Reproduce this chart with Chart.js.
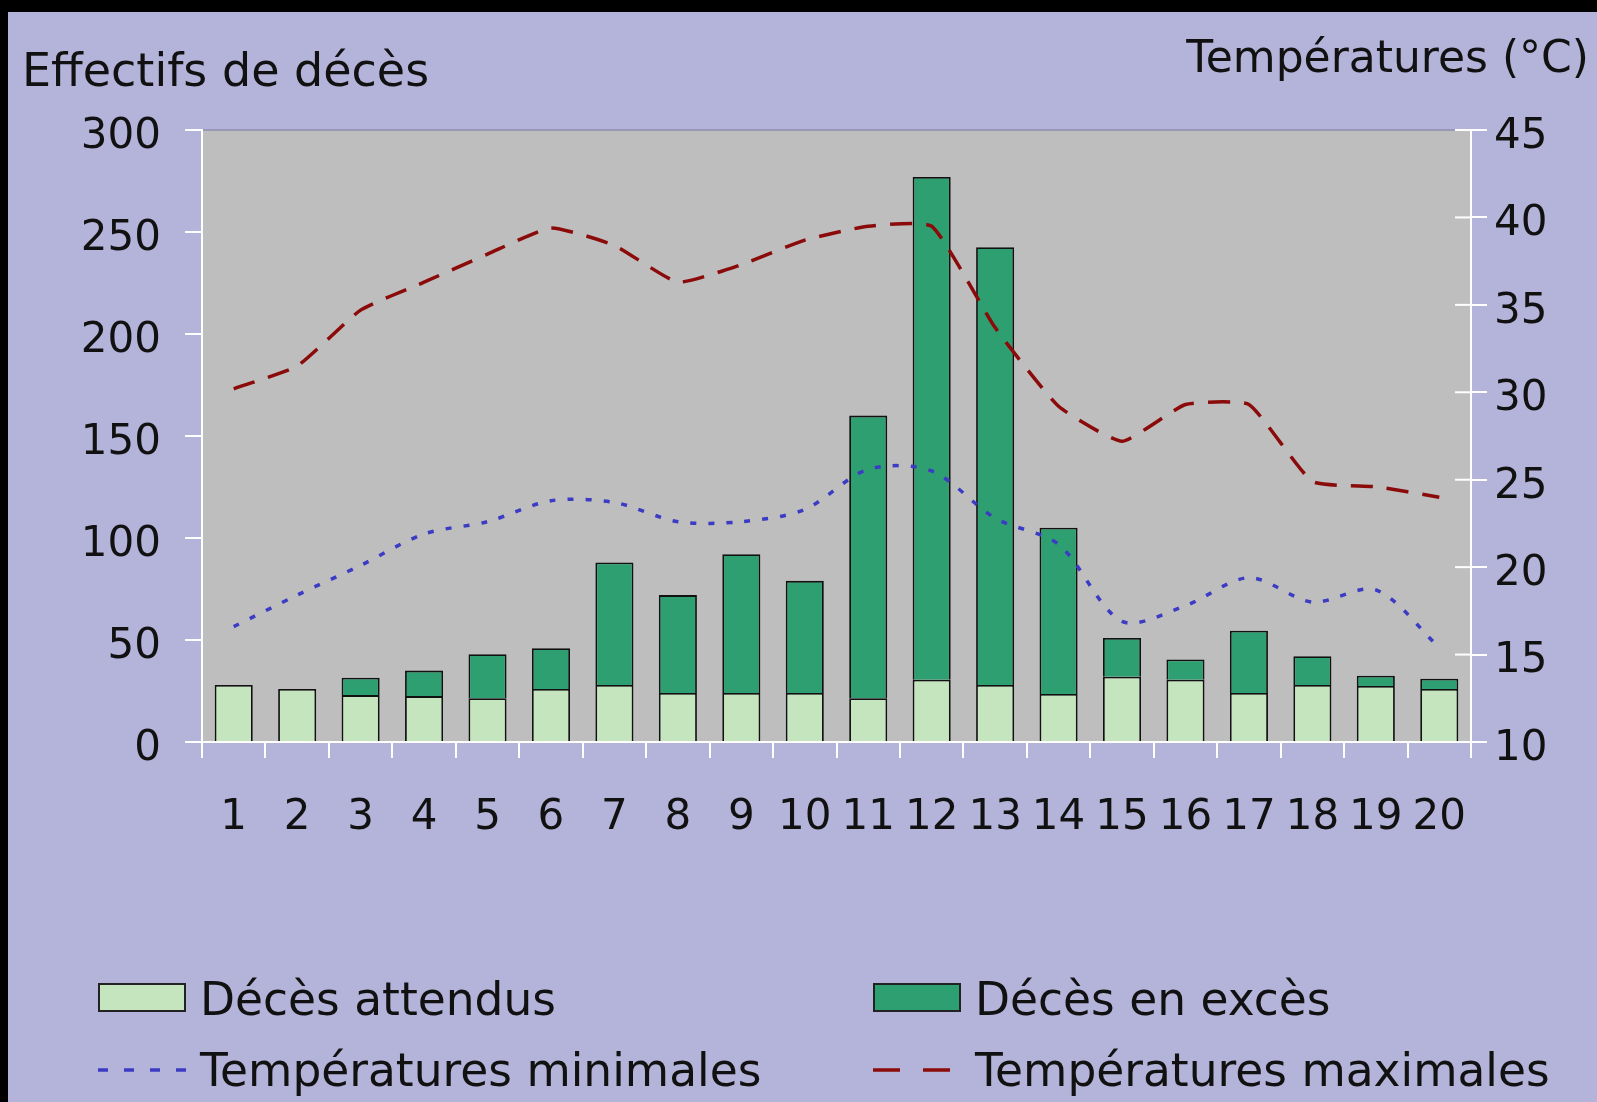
<!DOCTYPE html>
<html lang="fr">
<head>
<meta charset="utf-8">
<script src="https://cdn.jsdelivr.net/npm/chart.js@4.4.0/dist/chart.umd.min.js"></script>
<style>
  html, body { margin: 0; padding: 0; background: #000; }
  #wrap { position: relative; width: 1597px; height: 1102px; overflow: hidden; background: #000; }
  #page { position: absolute; left: 8px; top: 12px; right: 0; bottom: 0; background: #b4b4da; }
  canvas { position: absolute; left: 0; top: 0; }
  .txt { position: absolute; font-family: 'DejaVu Sans', sans-serif; color: #111; white-space: nowrap; line-height: 1; }
  .sw { position: absolute; width: 88px; height: 29px; border: 2px solid #222; box-sizing: border-box; }
  .ln { position: absolute; }
</style>
</head>
<body>
<div id="wrap">
  <div id="page"></div>
  <canvas id="c" width="1597" height="1102"></canvas>
  <div class="txt" style="left:22px; top:47px; font-size:46px;">Effectifs de décès</div>
  <div class="txt" style="right:8px; top:35px; font-size:44px;">Températures (°C)</div>
  <div id="legend"></div>
</div>
<script>
const labels = ['1', '2', '3', '4', '5', '6', '7', '8', '9', '10', '11', '12', '13', '14', '15', '16', '17', '18', '19', '20']

// décès (effectifs)
const attendus = [28, 26, 23, 22.5, 21.5, 26, 28, 24, 24, 24, 21.5, 30.5, 28, 23.5, 32, 30.5, 24, 28, 27.5, 26]
const exces = [0, 0, 8.5, 12.5, 21.5, 20, 60, 48, 68, 55, 138.5, 246.5, 214.5, 81.5, 19, 10, 30.5, 14, 5, 5]

// températures (°C)
const tMin = [16.6, 18.4, 20.1, 21.9, 22.6, 23.8, 23.7, 22.6, 22.6, 23.3, 25.6, 25.5, 22.8, 21.3, 16.9, 17.8, 19.4, 18.0, 18.7, 15.4]
const tMax = [30.2, 31.5, 34.7, 36.3, 37.9, 39.4, 38.4, 36.3, 37.3, 38.7, 39.5, 39.5, 33.7, 29.2, 27.2, 29.3, 29.3, 24.9, 24.6, 24.0]

const leftTicks = [0, 50, 100, 150, 200, 250, 300]
const rightTicks = [10, 15, 20, 25, 30, 35, 40, 45]

const fontTicks = { family: "'DejaVu Sans', sans-serif", size: 42 }

const plotBg = {
  id: 'plotBg',
  beforeDraw (chart) {
    const { ctx, chartArea: a } = chart
    ctx.save()
    ctx.fillStyle = '#bebebe'
    ctx.fillRect(a.left, a.top, a.right - a.left, a.bottom - a.top)
    ctx.strokeStyle = '#8e8eae'
    ctx.lineWidth = 1.5
    ctx.beginPath()
    ctx.moveTo(a.left, a.top)
    ctx.lineTo(a.right, a.top)
    ctx.stroke()
    ctx.restore()
  },
  afterDraw (chart) {
    // inner half of the right axis ticks
    const { ctx, chartArea: a } = chart
    const s = chart.scales.y1
    ctx.save()
    ctx.strokeStyle = '#ffffff'
    ctx.lineWidth = 2
    s.ticks.forEach((t) => {
      const y = s.getPixelForValue(t.value)
      ctx.beginPath()
      ctx.moveTo(a.right - 16, y)
      ctx.lineTo(a.right, y)
      ctx.stroke()
    })
    ctx.restore()
  }
}

const chart = new Chart(document.getElementById('c'), {
  data: {
    labels: labels,
    datasets: [
      {
        type: 'line',
        label: 'Températures minimales',
        data: tMin,
        yAxisID: 'y1',
        borderColor: '#3b3bc4',
        borderWidth: 3.5,
        borderDash: [6, 12],
        pointRadius: 0,
        tension: 0.3,
        fill: false,
        order: 0
      },
      {
        type: 'line',
        label: 'Températures maximales',
        data: tMax,
        yAxisID: 'y1',
        borderColor: '#8b0a0a',
        borderWidth: 3.5,
        borderDash: [22, 14],
        pointRadius: 0,
        tension: 0.15,
        fill: false,
        order: 0
      },
      {
        type: 'bar',
        label: 'Décès attendus',
        data: attendus,
        yAxisID: 'y',
        backgroundColor: '#c4e5bd',
        borderColor: '#111',
        borderWidth: 1.8,
        stack: 's',
        order: 1
      },
      {
        type: 'bar',
        label: 'Décès en excès',
        data: exces,
        yAxisID: 'y',
        backgroundColor: '#2e9f70',
        borderColor: '#111',
        borderWidth: 1.8,
        stack: 's',
        order: 1
      }
    ]
  },
  options: {
    responsive: false,
    animation: false,
    layout: { padding: { top: 130, left: 0, right: 0, bottom: 0 } },
    datasets: { bar: { categoryPercentage: 1, barPercentage: 0.6 } },
    plugins: { legend: { display: false }, tooltip: { enabled: false } },
    scales: {
      x: {
        stacked: true,
        afterFit: (s) => { s.height = 360 },
        grid: { drawOnChartArea: false, color: '#ffffff', lineWidth: 2, tickLength: 16 },
        border: { color: '#ffffff', width: 2 },
        ticks: { color: '#111', font: fontTicks, padding: 35, maxRotation: 0, autoSkip: false }
      },
      y: {
        position: 'left',
        stacked: true,
        min: 0,
        max: 300,
        afterFit: (s) => { s.width = 202 },
        afterBuildTicks: (s) => { s.ticks = leftTicks.map((v) => ({ value: v })) },
        grid: { drawOnChartArea: false, color: '#ffffff', lineWidth: 2, tickLength: 17 },
        border: { color: '#ffffff', width: 2 },
        ticks: { color: '#111', font: fontTicks, padding: 24, labelOffset: 7 }
      },
      y1: {
        position: 'right',
        min: 10,
        max: 45,
        afterFit: (s) => { s.width = 126 },
        afterBuildTicks: (s) => { s.ticks = rightTicks.map((v) => ({ value: v })) },
        grid: { drawOnChartArea: false, color: '#ffffff', lineWidth: 2, tickLength: 16 },
        border: { color: '#ffffff', width: 2 },
        ticks: { color: '#111', font: fontTicks, padding: 7, labelOffset: 7 }
      }
    }
  },
  plugins: [plotBg]
})

// legend in two columns, built from the chart datasets
// [left of sample, text baseline, sample width, dash pattern of the sample]
const legendPos = {
  'Décès attendus': [98, 1017, 88, null],
  'Décès en excès': [873, 1017, 88, null],
  'Températures minimales': [98, 1088, 90, '10 16'],
  'Températures maximales': [873, 1088, 78, '27 23']
}
const legend = document.getElementById('legend')
chart.data.datasets.forEach((ds) => {
  const p = legendPos[ds.label]
  const fs = 45.5
  if (ds.type === 'bar') {
    const sw = document.createElement('div')
    sw.className = 'sw'
    sw.style.left = p[0] + 'px'
    sw.style.top = (p[1] - 34) + 'px'
    sw.style.background = ds.backgroundColor
    legend.appendChild(sw)
  } else {
    const ln = document.createElement('div')
    ln.className = 'ln'
    ln.style.left = p[0] + 'px'
    ln.style.top = (p[1] - 23) + 'px'
    ln.innerHTML = '<svg width="' + p[2] + '" height="10" style="display:block"><line x1="0" y1="5" x2="' + p[2] +
      '" y2="5" stroke="' + ds.borderColor + '" stroke-width="3.5" stroke-dasharray="' + p[3] + '"/></svg>'
    legend.appendChild(ln)
  }
  const t = document.createElement('div')
  t.className = 'txt'
  t.style.fontSize = fs + 'px'
  t.style.left = (p[0] + 102) + 'px'
  // baseline of DejaVu Sans with line-height 1 sits ~0.87em below the box top
  t.style.top = Math.round(p[1] - fs * 0.874) + 'px'
  t.textContent = ds.label
  legend.appendChild(t)
})
</script>
</body>
</html>
